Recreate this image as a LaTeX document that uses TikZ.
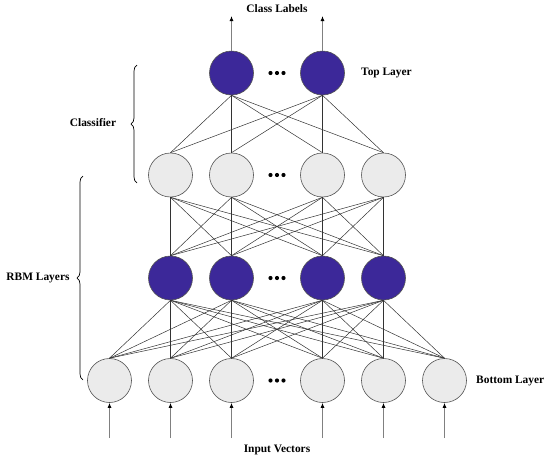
\documentclass[tikz,border=0pt]{standalone}
\usepackage{fontspec}
\setmainfont{Liberation Serif}
\usetikzlibrary{arrows.meta,decorations.pathreplacing}
\definecolor{nodeblue}{HTML}{3C2899}
\definecolor{nodegray}{HTML}{EBEBEB}
\definecolor{edgegray}{HTML}{333333}
\definecolor{arrgray}{HTML}{808080}
\tikzset{
  unit/.style={circle,minimum size=44pt,inner sep=0pt,draw=edgegray!85,line width=0.6pt},
  grayunit/.style={unit,fill=nodegray},
  blueunit/.style={unit,fill=nodeblue},
  conn/.style={draw=edgegray,line width=0.5pt},
  inarrow/.style={draw=arrgray,line width=1.1pt,-{Latex[length=5pt,width=4pt,color=black]}},
  lbl/.style={font=\fontsize{11.4}{13}\selectfont\bfseries,inner sep=0pt},
  bracestyle/.style={draw=black,line width=0.7pt,decorate,decoration={brace,amplitude=6pt}},
  dotmark/.style={circle,fill=black,inner sep=0pt,minimum size=4.2pt}
}
\begin{document}
\begin{tikzpicture}[x=1pt,y=-1pt]
\useasboundingbox (0,0) rectangle (550,461);
% top layer
\node[blueunit] (t1) at (231.5,73) {};
\node[blueunit] (t2) at (322.5,73) {};
% hidden gray layer and blue RBM layer
\foreach \i/\x in {1/170.5,2/231.5,3/322.5,4/383.5}{
  \node[grayunit] (h\i) at (\x,175) {};
  \node[blueunit] (b\i) at (\x,278) {};
}
% bottom layer
\foreach \i/\x in {1/109.5,2/170.5,3/231.5,4/322.5,5/383.5,6/444.5}{
  \node[grayunit] (v\i) at (\x,380.5) {};
  \coordinate (in\i) at (\x,438);
  \draw[inarrow] (in\i) -- (v\i.south);
}
% connections
\foreach \a in {1,2}{\foreach \b in {1,...,4}{\draw[conn] (t\a.south) -- (h\b.north);}}
\foreach \a in {1,...,4}{\foreach \b in {1,...,4}{\draw[conn] (h\a.south) -- (b\b.north);}}
\foreach \a in {1,...,4}{\foreach \b in {1,...,6}{\draw[conn] (b\a.south) -- (v\b.north);}}
% output arrows
\coordinate (o1) at (231.5,16);
\coordinate (o2) at (322.5,16);
\draw[inarrow] (t1.north) -- (o1);
\draw[inarrow] (t2.north) -- (o2);
% dots
\foreach \y/\n in {73/d1,175/d2,278/d3,380.5/d4}{
  \node[dotmark] (\n a) at (270.5,\y) {};
  \node[dotmark] (\n b) at (277,\y) {};
  \node[dotmark] (\n c) at (283.5,\y) {};
}
% labels
\node[lbl] (cl) at (277,9) {Class Labels};
\node[lbl,anchor=west] (tl) at (361,73) {Top Layer};
\node[lbl,anchor=west] (bl) at (476,380.5) {Bottom Layer};
\node[lbl] (iv) at (277,450) {Input Vectors};
\node[lbl] (cf) at (93,123) {Classifier};
\node[lbl] (rbm) at (38,278) {RBM Layers};
% braces
\coordinate (c1) at (137,183);
\coordinate (c2) at (137,65);
\draw[bracestyle] (c1) -- (c2);
\coordinate (r1) at (83,380);
\coordinate (r2) at (83,176);
\draw[bracestyle] (r1) -- (r2);
\end{tikzpicture}
\end{document}
